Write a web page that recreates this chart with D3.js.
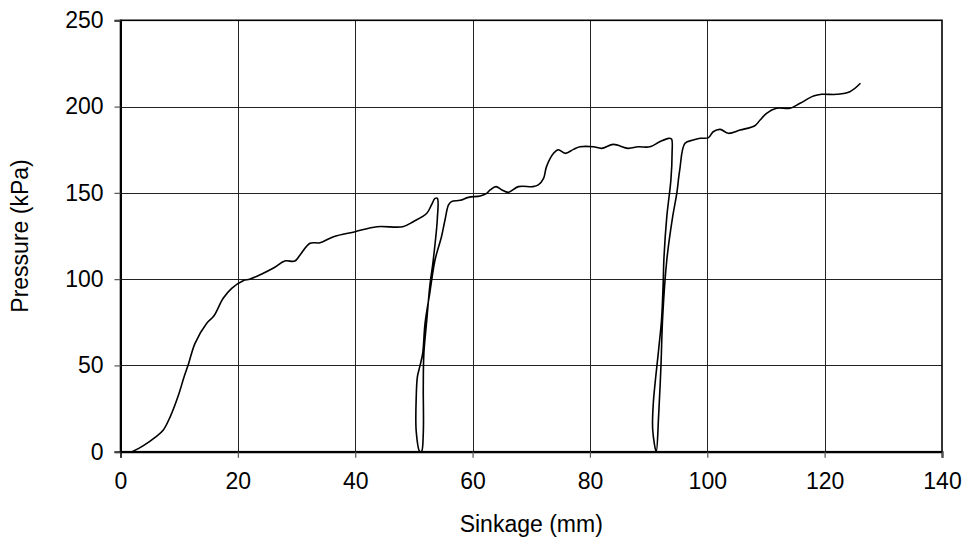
<!DOCTYPE html>
<html>
<head>
<meta charset="utf-8">
<script src="https://cdn.jsdelivr.net/npm/d3@7"></script>
<style>
  html, body { margin: 0; padding: 0; background: #fff; }
  svg { display: block; font-family: "Liberation Sans", Arial, sans-serif; }
</style>
</head>
<body>
<svg id="chart" width="966" height="538"></svg>
<script>
// Plate sinkage test: loading, two unload/reload cycles
const sinkage = [
  2.0, 3.9, 5.9, 7.3, 8.5, 9.9, 10.8, 11.6, 12.7, 14.7, 15.9, 17.5, 18.95, 20.9, 22.1,
  26.0, 28.0, 29.7, 30.6, 32.3, 34.0, 36.3, 40.0, 43.7, 48.1, 49.9, 52.2, 53.0, 53.6, 54.0,
  54.0, 53.3, 52.7, 52.2, 51.7, 51.6, 51.6, 51.3,
  51.0, 50.4, 50.4, 50.6, 51.0, 51.5, 51.9, 52.7, 53.6, 54.7, 55.3, 55.9, 56.4, 57.9,
  59.3, 61.3, 62.4, 63.0, 64.0, 65.0, 66.1, 67.8, 70.3, 71.2, 72.1, 72.6, 73.8, 74.6,
  75.8, 77.2, 78.3, 80.6, 82.0, 84.0, 86.5, 88.2, 90.2, 91.9, 93.4, 93.9,
  94.0, 93.8, 93.1, 92.6, 92.5, 92.2, 91.7, 90.8, 90.7, 91.3,
  91.7, 92.1, 92.4, 93.1, 94.1, 94.8, 95.3, 96.2, 97.6, 98.8, 100.2, 101.0, 102.2,
  103.6, 105.6, 108.1, 109.0, 110.1, 111.8, 114.1, 115.8, 118.1, 119.5, 122.1, 124.3, 126.1
];
const pressure = [
  0, 3.5, 8.3, 12.6, 20.5, 33.0, 43.0, 51.0, 62.8, 74.4, 78.6, 88.9, 94.7, 99.1, 100.1,
  106.3, 110.5, 110.5, 114.0, 120.8, 121.1, 124.6, 127.5, 130.4, 130.4, 133.3, 138.2, 143.0, 146.8, 146.8,
  135.3, 111.1, 95.6, 76.3, 57.0, 37.7, 10.7, 0,
  0, 11.6, 31.9, 43.5, 49.3, 57.0, 74.4, 91.8, 111.1, 124.6, 134.3, 143.0, 144.9, 145.7,
  147.4, 148.2, 149.7, 151.7, 153.6, 151.7, 150.3, 153.6, 153.6, 154.6, 158.4, 165.2, 172.9, 175.0,
  172.9, 175.2, 176.7, 176.7, 175.8, 178.1, 175.8, 176.7, 176.7, 179.6, 181.6, 181.2,
  172.9, 157.5, 136.2, 111.1, 99.5, 76.3, 58.9, 28.0, 12.6, 0,
  20.3, 49.3, 78.2, 111.1, 136.2, 149.7, 163.2, 178.7, 180.6, 181.6, 182.0, 185.4, 186.8,
  184.5, 186.4, 188.9, 192.2, 196.1, 199.0, 199.0, 201.9, 206.1, 207.1, 207.1, 208.6, 213.5
];
const xTicks = [0, 20, 40, 60, 80, 100, 120, 140];
const yTicks = [0, 50, 100, 150, 200, 250];
const xTitle = "Sinkage (mm)";
const yTitle = "Pressure (kPa)";

const svg = d3.select("#chart");
const plotL = 120.5, plotR = 942, plotT = 20.3, plotB = 451.7;
const fontSize = 23;

const x = d3.scaleLinear().domain([0, 140]).range([plotL, plotR]);
const y = d3.scaleLinear().domain([0, 250]).range([plotB, plotT]);

// grid
const grid = svg.append("g");
grid.selectAll("line.v").data(xTicks.slice(1, -1)).join("line")
  .attr("x1", d => Math.round(x(d)) + 0.5).attr("x2", d => Math.round(x(d)) + 0.5)
  .attr("y1", plotT).attr("y2", plotB)
  .attr("stroke", "#222").attr("stroke-width", 1);
grid.selectAll("line.h").data(yTicks.slice(1, -1)).join("line")
  .attr("y1", d => Math.round(y(d)) + 0.5).attr("y2", d => Math.round(y(d)) + 0.5)
  .attr("x1", plotL).attr("x2", plotR)
  .attr("stroke", "#222").attr("stroke-width", 1);

// plot frame
svg.append("rect")
  .attr("x", plotL).attr("y", plotT)
  .attr("width", plotR - plotL).attr("height", plotB - plotT)
  .attr("fill", "none").attr("stroke", "#000").attr("stroke-width", 1.6);

// axes
const xAxis = d3.axisBottom(x).tickValues(xTicks).tickSize(6).tickPadding(15).tickFormat(d3.format("d"));
const yAxis = d3.axisLeft(y).tickValues(yTicks).tickSize(6).tickPadding(11).tickFormat(d3.format("d"));

const gx = svg.append("g").attr("transform", `translate(0,${plotB})`).call(xAxis);
const gy = svg.append("g").attr("transform", `translate(${plotL},0)`).call(yAxis);
[gx, gy].forEach(g => {
  g.select(".domain").attr("stroke", "#000").attr("stroke-width", 2);
  g.selectAll(".tick line").attr("stroke", "#555").attr("stroke-width", 1.2);
  g.selectAll(".tick text").attr("fill", "#000").attr("font-size", fontSize)
    .attr("font-family", "'Liberation Sans', Arial, sans-serif");
});

// data line
const pts = sinkage.map((s, i) => [s, pressure[i]]);
svg.append("path")
  .datum(pts)
  .attr("fill", "none")
  .attr("stroke", "#000")
  .attr("stroke-width", 1.6)
  .attr("stroke-linejoin", "round")
  .attr("d", d3.line().curve(d3.curveCatmullRom.alpha(0.5)).x(d => x(d[0])).y(d => y(d[1])));

// titles
svg.append("text")
  .attr("x", (plotL + plotR) / 2).attr("y", 532)
  .attr("text-anchor", "middle").attr("font-size", fontSize).text(xTitle);
svg.append("text")
  .attr("transform", `translate(28,${(plotT + plotB) / 2}) rotate(-90)`)
  .attr("text-anchor", "middle").attr("font-size", fontSize).text(yTitle);
</script>
</body>
</html>
